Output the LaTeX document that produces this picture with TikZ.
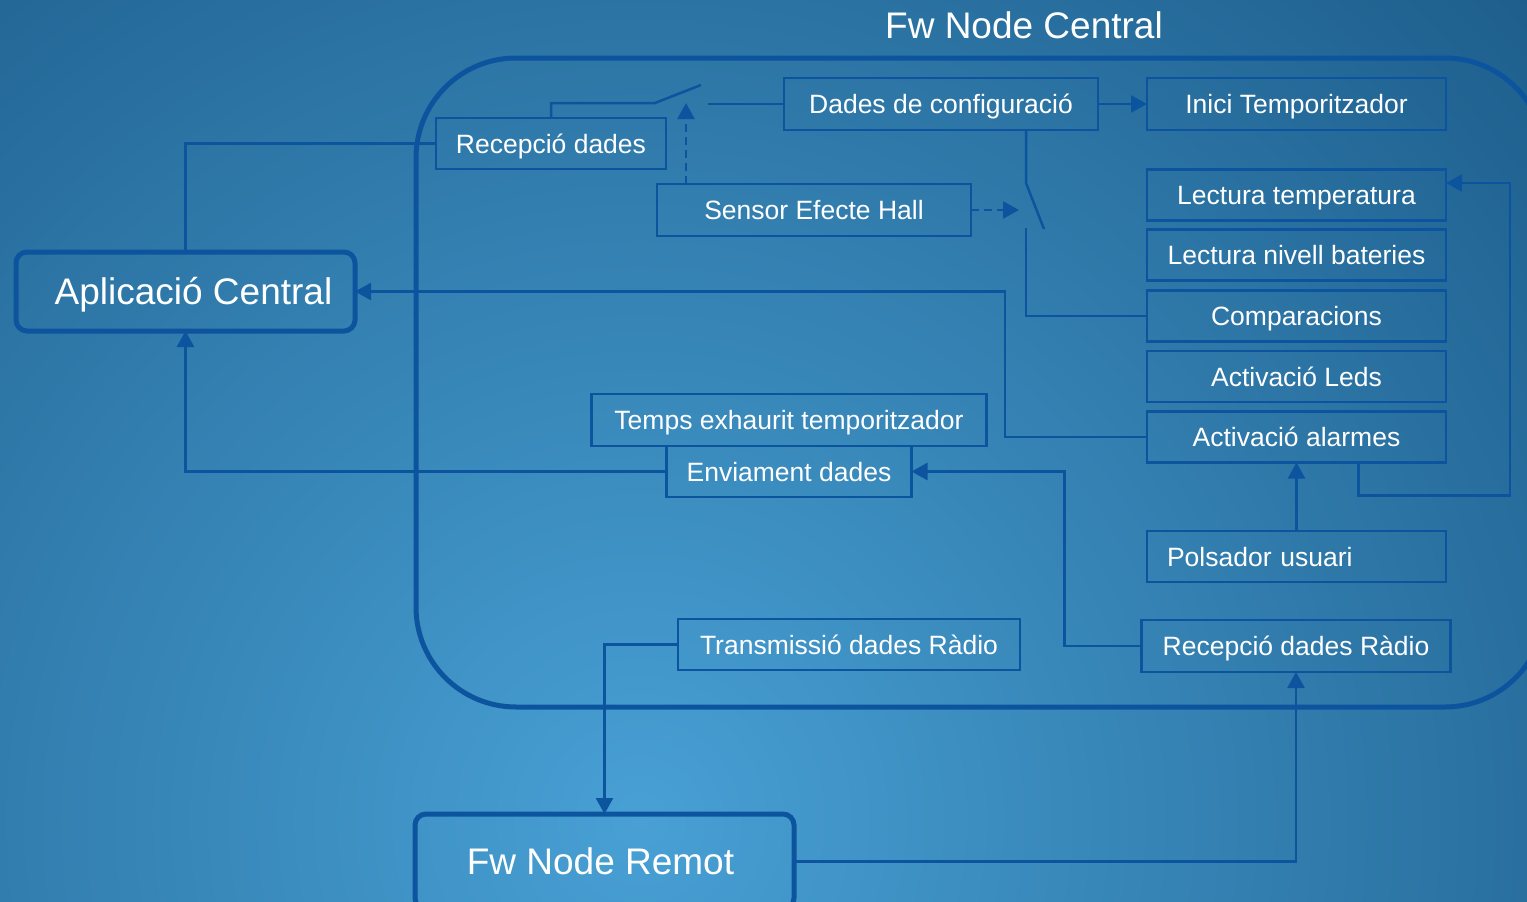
\documentclass[tikz,border=0pt]{standalone}
\usepackage{fontspec}
\setmainfont{Liberation Sans}
\usetikzlibrary{arrows.meta}
\definecolor{lc}{RGB}{13,84,158}
\definecolor{bgin}{RGB}{72,160,212}
\definecolor{bgout}{RGB}{28,92,138}
\tikzset{
  box/.style={draw=lc, line width=2.5pt, text=white, inner sep=0pt, outer sep=0pt,
    font=\fontsize{26.5}{30}\selectfont, text height=19pt, text depth=0pt},
  bigbox/.style={draw=lc, line width=5pt, rounded corners=11pt, text=white, inner sep=0pt, outer sep=0pt,
    font=\fontsize{37}{42}\selectfont, text height=26.5pt, text depth=0pt},
  conn/.style={draw=lc, line width=2.5pt},
  arr/.style={conn, -{Triangle[length=16pt,width=17pt]}},
  darr/.style={arr, dash pattern=on 8pt off 5pt},
}
\begin{document}
\begin{tikzpicture}[x=1pt,y=-1pt]
\useasboundingbox (0,0) rectangle (1527,902);
\begin{scope}
\clip (0,0) rectangle (1527,902);
\fill[bgout] (0,0) rectangle (1527,902);
\shade[inner color=bgin, outer color=bgout] (640,820) circle (1250);
\draw[lc, line width=5pt, rounded corners=100pt] (416,58) rectangle (1545,707);

% nodes
\node[box, minimum width=230pt, minimum height=51pt] (rec) at (551,143.5) {Recepció dades};
\node[box, minimum width=314pt, minimum height=52pt] (sens) at (814,210) {Sensor Efecte Hall};
\node[box, minimum width=314pt, minimum height=52pt] (conf) at (941,104) {Dades de configuració};
\node[box, minimum width=299pt, minimum height=52pt] (inici) at (1296.5,104) {Inici Temporitzador};
\node[box, minimum width=299pt, minimum height=51pt] (ltemp) at (1296.5,195) {Lectura temperatura};
\node[box, minimum width=299pt, minimum height=51pt] (lbat) at (1296.5,255) {Lectura nivell bateries};
\node[box, minimum width=299pt, minimum height=51pt] (comp) at (1296.5,316) {Comparacions};
\node[box, minimum width=299pt, minimum height=51pt] (leds) at (1296.5,376.5) {Activació Leds};
\node[box, minimum width=299pt, minimum height=51pt] (alarm) at (1296.5,437) {Activació alarmes};
\node[box, minimum height=51pt, inner xsep=20pt, text width=259pt, align=left] (pols) at (1296.5,556.5) {Polsador usuari};
\node[box, minimum width=395pt, minimum height=52pt] (temps) at (789,420) {Temps exhaurit temporitzador};
\node[box, minimum width=245pt, minimum height=51pt] (env) at (789,471.5) {Enviament dades};
\node[box, minimum width=342pt, minimum height=51pt] (trans) at (849,644.5) {Transmissió dades Ràdio};
\node[box, minimum width=309pt, minimum height=52pt] (rradio) at (1296,646) {Recepció dades Ràdio};
\node[bigbox, minimum width=339pt, minimum height=79pt] (app) at (185.5,291.5) {\hspace*{16pt}Aplicació Central};
\node[bigbox, minimum width=379pt, minimum height=95pt] (remote) at (604.5,861.5) {\hspace*{-8pt}Fw Node Remot};
\node[text=white, inner sep=0pt, font=\fontsize{37}{42}\selectfont, text height=26.5pt, text depth=0pt] (title) at (1024,25) {Fw Node Central};

% coordinates
\coordinate (s1a) at (655,103);
\coordinate (s1b) at (701,85);
\coordinate (s1c) at (708,104);
\coordinate (hallup) at (686,103);
\coordinate (s2a) at (1026,183);
\coordinate (s2b) at (1044,229);
\coordinate (s2c) at (1026,228);
\coordinate (hallr) at (1019,210);
\coordinate (ax) at (1005,291.5);
\coordinate (lp1) at (1358.5,495.5);
\coordinate (lp2) at (1510,183);
\coordinate (rx) at (1064.5,471.5);

% connectors
\draw[conn] (app.north) |- (rec.west);
\draw[conn] (rec.north) |- (s1a) -- (s1b);
\draw[conn] (s1c) -- (conf.west);
\draw[darr] (hallup |- sens.north) -- (hallup);
\draw[conn] (conf.south -| s2a) -- (s2a) -- (s2b);
\draw[conn] (s2c) |- (comp.west);
\draw[darr] (sens.east) -- (hallr);
\draw[arr] (conf.east) -- (inici.west);
\draw[arr] (alarm.west) -| (ax) -- (app.east);
\draw[arr] (alarm.south -| lp1) -- (lp1) -| (lp2) -- (ltemp.east |- lp2);
\draw[arr] (pols.north) -- (alarm.south);
\draw[arr] (rradio.west) -| (rx) -- (env.east);
\draw[arr] (env.west) -| (app.south);
\draw[arr] (trans.west) -| (remote.north);
\draw[arr] (remote.east) -| (rradio.south);
\end{scope}
\end{tikzpicture}
\end{document}
